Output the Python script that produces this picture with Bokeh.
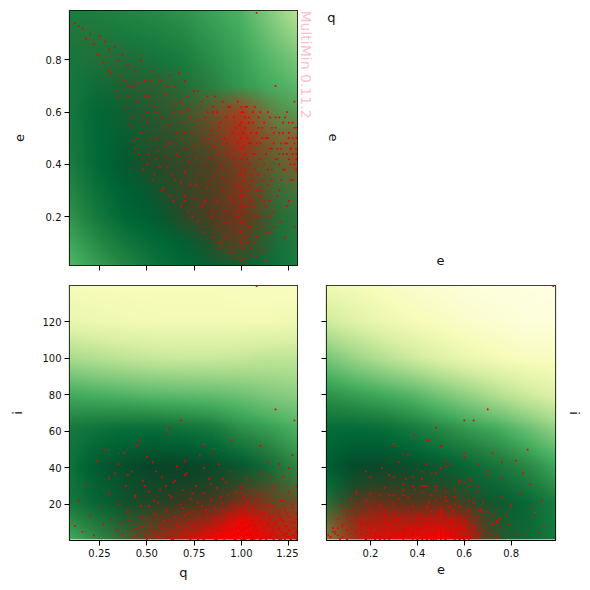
import numpy as np
from bokeh.plotting import figure
from bokeh.layouts import column, row
from bokeh.models import Range1d, LinearAxis, FixedTicker, NumeralTickFormatter
from bokeh.core.properties import value
from bokeh.embed import file_html
from bokeh.resources import INLINE

# Colour scale of the background (dark to light)
scale_colors = ["#004529", "#006837", "#238443", "#41ab5d", "#78c679", "#addd8e", "#d9f0a3", "#f7fcb9", "#ffffe5"]

# Axis extents and ticks
q_lim = (0.0915, 1.296)
e_lim = (0.0125, 0.989)
i_lim = (0.2, 139.9)
q_ticks = [0.25, 0.5, 0.75, 1.0, 1.25]
e_ticks = [0.2, 0.4, 0.6, 0.8]
i_ticks = [20, 40, 60, 80, 100, 120]

# Background levels, top row first
bg_q_cols = [0.09, 0.24, 0.39, 0.54, 0.69, 0.84, 0.99, 1.14, 1.30]
bg_e_cols = [0.01, 0.13, 0.25, 0.38, 0.50, 0.62, 0.75, 0.87, 0.99]
bg_e_rows = [0.99, 0.80, 0.60, 0.40, 0.20, 0.01]
bg_i_rows = [140, 120, 100, 80, 60, 40, 20, 0]
bg_qe = [[.22, .23, .25, .27, .30, .35, .40, .52, .66],
         [.20, .19, .18, .19, .22, .28, .34, .42, .50],
         [.20, .13, .12, .13, .16, .22, .29, .34, .38],
         [.22, .13, .08, .07, .08, .10, .16, .23, .30],
         [.30, .20, .12, .09, .07, .07, .10, .17, .23],
         [.42, .33, .25, .18, .13, .11, .12, .15, .22]]
bg_qi = [[.87, .88, .88, .88, .88, .88, .89, .89, .90],
         [.82, .84, .85, .86, .86, .86, .86, .86, .84],
         [.62, .65, .68, .70, .71, .71, .70, .68, .68],
         [.38, .40, .42, .44, .45, .46, .48, .52, .55],
         [.20, .17, .15, .15, .17, .20, .28, .33, .40],
         [.18, .08, .04, .01, .01, .03, .08, .16, .27],
         [.20, .13, .07, .04, .03, .04, .08, .15, .22],
         [.38, .28, .20, .15, .13, .13, .14, .18, .25]]
bg_ei = [[.85, .87, .90, .93, .95, .97, .98, .99, 1.0],
         [.72, .78, .83, .87, .90, .93, .95, .97, .97],
         [.50, .58, .65, .72, .78, .83, .87, .90, .90],
         [.30, .34, .38, .43, .50, .57, .65, .72, .78],
         [.14, .14, .15, .20, .26, .32, .38, .46, .55],
         [.10, .03, .03, .05, .09, .14, .20, .27, .36],
         [.20, .08, .05, .05, .05, .07, .10, .14, .22],
         [.40, .22, .15, .12, .10, .10, .12, .15, .20]]

# Share of red per region of each panel, top row first
dens_q_cols = [0.1, 0.2, 0.3, 0.4, 0.5, 0.6, 0.7, 0.8, 0.9, 1.0, 1.1, 1.2, 1.3]
dens_e_cols = [0.0, 0.1, 0.2, 0.3, 0.4, 0.5, 0.6, 0.7, 0.8, 0.9, 1.0]
dens_e_rows = [0.99, 0.9, 0.8, 0.7, 0.6, 0.5, 0.4, 0.3, 0.2, 0.1, 0.01]
dens_i_rows = [70, 60, 50, 40, 30, 20, 10, 0]
dens_qe = [[0, 0, 0, 0, 0, 0, 0, 0, 0, 0, 0, 0, 0],
           [.04, .06, .02, 0, 0, 0, 0, 0, 0, 0, 0, 0, 0],
           [.01, .06, .1, .08, .03, .01, 0, 0, 0, 0, 0, 0, 0],
           [0, .02, .06, .12, .14, .14, .08, .05, .02, .01, .01, .01, 0],
           [0, .01, .03, .08, .14, .18, .22, .28, .42, .55, .32, .15, .1],
           [0, 0, .01, .05, .13, .18, .22, .32, .46, .65, .45, .32, .42],
           [0, 0, 0, .03, .14, .18, .22, .28, .36, .45, .32, .24, .42],
           [0, 0, 0, 0, .03, .14, .22, .28, .36, .5, .32, .15, .15],
           [0, 0, 0, 0, 0, .05, .18, .28, .36, .45, .28, .1, .07],
           [0, 0, 0, 0, 0, 0, .02, .1, .26, .35, .18, .05, .03],
           [0, 0, 0, 0, 0, 0, 0, .02, .08, .07, .02, .01, 0]]
dens_qi = [[0, 0, 0, 0, 0, 0, 0, 0, 0, 0, 0, 0, 0],
           [0, 0, 0, 0, .01, .01, .01, .01, .01, .01, .01, .01, .01],
           [0, .01, .01, .02, .02, .02, .02, .02, .02, .02, .03, .02, .02],
           [0, .01, .02, .03, .03, .04, .04, .04, .04, .05, .05, .04, .03],
           [.01, .02, .03, .05, .07, .08, .1, .11, .15, .2, .24, .2, .15],
           [.02, .03, .05, .08, .13, .17, .22, .28, .33, .5, .5, .37, .37],
           [.01, .03, .07, .15, .28, .38, .47, .57, .72, .92, .78, .62, .57],
           [.01, .03, .07, .2, .42, .58, .74, .86, 1, 1, .92, .74, .62]]
dens_ei = [[0, 0, 0, 0, 0, 0, 0, 0, 0, 0, 0],
           [0, 0, 0, 0, 0, 0, .01, .01, 0, 0, 0],
           [0, 0, .01, .01, .01, .01, .01, .02, .01, 0, 0],
           [0, .02, .04, .05, .04, .04, .03, .03, .02, .01, 0],
           [.01, .07, .15, .17, .15, .13, .09, .04, .03, .01, 0],
           [.08, .24, .42, .38, .33, .38, .24, .09, .04, .02, 0],
           [.24, .47, .68, .68, .68, .74, .62, .24, .07, .03, 0],
           [.28, .52, .8, .86, .92, 1, .8, .28, .09, .02, 0]]

# Individual samples
samples_q = [.12,.14,.16,.18,.20,.22,.24,.25,.27,.28,.30,.31,.33,.34,.35,.37,.38,.39,.40,.41,.42,.43,.44,.45,.46,.47,.48,.49,.50,
             .51,.52,.53,.54,.55,.56,.57,.58,.59,.60,.61,.62,.62,.63,.64,.65,.65,.66,.67,.68,.68,.69,.70,.70,.71,.72,.72,.73,.74,.75,.75,
             .76,.77,.77,.78,.79,.79,.80,.80,.81,.82,.82,.83,.84,.84,.85,.85,.86,.86,.87,.87,.88,.88,.89,.89,.90,.90,.91,.91,.92,.92,
             .93,.93,.94,.94,.95,.95,.96,.96,.97,.97,.98,.98,.98,.99,.99,1.0,1.0,1.0,1.0,1.0,1.0,1.01,1.01,1.01,1.02,1.02,1.02,1.02,
             1.03,1.03,1.03,1.04,1.04,1.04,1.05,1.05,1.05,1.06,1.06,1.07,1.07,1.08,1.08,1.09,1.09,1.10,1.10,1.11,1.11,1.12,1.12,1.13,1.13,
             1.14,1.14,1.15,1.15,1.16,1.16,1.17,1.17,1.18,1.18,1.19,1.20,1.20,1.21,1.21,1.22,1.22,1.23,1.23,1.24,1.24,1.25,1.25,1.26,1.26,
             1.27,1.27,1.28,1.28,1.29,1.29,1.29,1.29,1.28,1.08]
samples_e = [.94,.93,.92,.88,.90,.86,.82,.89,.79,.87,.84,.75,.85,.68,.80,.82,.72,.62,.78,.55,.70,.49,.76,.64,.44,.80,.58,.72,.40,
             .66,.50,.76,.36,.60,.45,.72,.30,.54,.67,.39,.74,.28,.48,.60,.70,.34,.52,.43,.24,.64,.56,.72,.37,.46,.22,.61,.32,.52,.68,.27,
             .42,.18,.57,.36,.64,.24,.48,.14,.58,.31,.66,.42,.20,.53,.12,.62,.36,.47,.26,.60,.16,.54,.40,.08,.64,.30,.50,.22,.58,.12,
             .44,.34,.62,.18,.52,.26,.06,.58,.40,.14,.64,.32,.48,.22,.55,.10,.38,.60,.28,.46,.18,.52,.04,.34,.58,.12,.24,.44,
             .30,.50,.62,.16,.40,.56,.08,.26,.48,.34,.60,.20,.44,.52,.12,.36,.58,.28,.48,.16,.54,.40,.06,.50,.24,
             .60,.32,.46,.14,.54,.38,.22,.48,.58,.70,.42,.30,.52,.18,.46,.56,.38,.48,.12,.44,.60,.52,.26,.40,.46,
             .56,.34,.48,.16,.42,.54,.44,.50,.64,.98]
samples_i = [8,22,5,31,14,3,44,18,9,50,26,12,37,6,20,4,48,30,15,11,38,2,24,7,55,19,33,3,12,
             27,6,43,15,2,21,9,35,4,17,58,11,25,1,32,5,13,41,8,20,3,28,14,6,37,2,10,23,4,16,9,
             30,1,12,47,5,19,3,26,8,15,2,34,7,22,11,4,18,1,29,6,13,42,3,9,21,5,16,1,32,7,
             10,25,2,38,6,14,3,19,1,27,8,12,4,2,17,6,30,1,9,13,3,24,5,2,10,16,7,1,
             20,4,34,8,3,14,2,11,28,5,1,18,9,3,23,6,13,1,37,4,10,15,7,2,25,
             8,43,3,12,19,5,1,30,9,72,2,14,6,22,1,11,35,4,17,8,2,27,13,6,1,
             20,47,3,10,15,5,30,1,66,139.5]
more_samples = [(.36,.74,10),(.40,.66,17),(.42,.58,6),(.44,.46,25),(.45,.71,3),(.47,.52,13),(.48,.38,8),(.49,.66,30),(.50,.56,1),
    (.51,.44,19),(.52,.72,9),(.53,.34,4),(.54,.62,22),(.55,.50,14),(.56,.74,2),(.57,.39,28),(.58,.58,7),(.59,.31,11),(.60,.47,3),
    (.61,.70,16),(.62,.55,5),(.63,.36,24),(.64,.26,1),(.65,.63,33),(.66,.44,9),(.67,.75,12),(.68,.33,2),(.69,.50,18),(.70,.26,6),
    (.71,.66,4),(.72,.41,15),(.73,.58,1),(.74,.20,26),(.75,.47,8),(.76,.32,3),(.77,.68,21),(.78,.54,5),(.79,.16,10),(.80,.40,1),
    (.81,.26,17),(.82,.60,7),(.83,.50,2),(.84,.34,31),(.85,.22,4),(.86,.66,13),(.87,.44,1),(.88,.10,6),(.89,.56,24),(.90,.38,3),
    (.91,.18,9),(.92,.48,2),(.93,.62,15),(.94,.28,5),(.95,.08,20),(.96,.42,1),(.97,.54,11),(.98,.20,4),(.99,.36,7),(1.0,.62,2),
    (1.0,.50,16),(1.0,.56,3),(1.0,.30,10),(1.0,.24,1),(1.0,.14,5),(1.0,.42,27),(1.01,.60,6),(1.01,.47,2),(1.01,.28,13),(1.01,.18,1),
    (1.01,.08,8),(1.02,.54,4),(1.02,.38,19),(1.02,.62,1),(1.03,.22,3),(1.03,.42,7),(1.03,.10,14),(1.04,.58,2),(1.04,.32,5),(1.04,.48,22),
    (1.05,.52,1),(1.05,.16,9),(1.05,.36,3),(1.06,.44,12),(1.06,.56,6),(1.06,.24,2),(1.07,.62,17),(1.07,.38,4),(1.07,.10,1),(1.08,.48,8),
    (1.08,.30,25),(1.09,.54,3),(1.09,.20,6),(1.10,.42,1),(1.10,.60,11),(1.11,.34,2),(1.11,.50,15),(1.12,.26,4),(1.12,.56,7),(1.13,.44,1),
    (1.13,.14,20),(1.14,.50,5),(1.14,.38,9),(1.15,.58,2),(1.15,.26,13),(1.16,.46,4),(1.16,.34,28),(1.17,.52,1),(1.17,.16,6),(1.18,.42,10),
    (1.18,.54,3),(1.19,.46,16),(1.19,.28,2),(1.20,.40,7),(1.20,.58,1),(1.21,.48,5),(1.21,.34,12),(1.22,.44,3),(1.22,.52,22),(1.23,.38,1),
    (1.23,.58,8),(1.24,.48,4),(1.24,.24,15),(1.25,.42,2),(1.25,.56,6),(1.26,.46,10),(1.26,.34,1),(1.27,.50,3),(1.27,.44,18),(1.28,.40,7),
    (1.28,.54,2),(1.29,.46,12),(1.29,.38,4),(1.0,.03,2),(1.05,.05,4),(.97,.04,7),(1.1,.07,1),(.93,.06,12),(1.02,.02,3),(.9,.09,17),
    (1.08,.05,5),(1.13,.03,2),(.6,.43,30),(.7,.28,36),(.8,.25,40),(.9,.35,34),(.55,.42,38),(.5,.6,46),(.45,.5,52),(.7,.52,44),
    (.85,.6,48),(.35,.66,42),(.62,.48,62),(.68,.6,66),(1.1,.3,52),(1.2,.44,42),(1.15,.2,35),(1.25,.5,40),(.8,.5,52),(.95,.45,55),
    (.4,.7,36),(.3,.76,34)]

all_q = samples_q + [s[0] for s in more_samples]
all_e = samples_e + [s[1] for s in more_samples]
all_i = samples_i + [s[2] for s in more_samples]


def upsample(grid, cols, rows, nx, ny, x_lim, y_lim):
    """Smooth a coarse read-off grid for display (top row first in, bottom row first out)."""
    g = np.asarray(grid, float)
    xs = np.linspace(x_lim[0], x_lim[1], nx)
    ys = np.linspace(y_lim[0], y_lim[1], ny)
    r = np.asarray(rows, float)[::-1]
    by_col = np.array([np.interp(xs, cols, line) for line in g[::-1]])
    return np.array([np.interp(ys, r, by_col[:, j]) for j in range(nx)]).T


def to_rgba(rgb, alpha):
    a = (np.clip(alpha, 0, 1) * 255).astype(np.uint32)
    return (a << 24) | (rgb[..., 2].astype(np.uint32) << 16) | (rgb[..., 1].astype(np.uint32) << 8) | rgb[..., 0].astype(np.uint32)


def bg_image(t):
    stops = np.array([[int(c[k:k + 2], 16) for k in (1, 3, 5)] for c in scale_colors], float)
    pos = np.linspace(0, 1, len(stops))
    rgb = np.stack([np.interp(t, pos, stops[:, k]) for k in range(3)], axis=-1)
    return to_rgba(rgb, np.ones(t.shape))


def red_image(t):
    rgb = np.zeros(t.shape + (3,))
    rgb[..., 0] = 255
    return to_rgba(rgb, t)


FONT = "DejaVu Sans"
TICK_PX = "10px"
LABEL_PX = "13px"


def panel(x_lim, y_lim, xt, yt, bg, dens, sx, sy, xlabel, ylabel, show_x, show_y,
          width, height, left, right, top, bottom, y_standoff, img_lift):
    p = figure(width=width, height=height, x_range=Range1d(*x_lim), y_range=Range1d(*y_lim),
               output_backend="svg", toolbar_location=None, min_border_left=left, min_border_right=right,
               min_border_top=top, min_border_bottom=bottom, background_fill_color="white")
    p.grid.visible = False
    p.outline_line_color = "black"
    p.outline_line_width = 1.2
    dw, dh = x_lim[1] - x_lim[0], y_lim[1] - y_lim[0]
    p.image_rgba(image=[bg_image(bg)], x=x_lim[0], y=y_lim[0] + img_lift, dw=dw, dh=dh - img_lift)
    p.image_rgba(image=[red_image(dens)], x=x_lim[0], y=y_lim[0] + img_lift, dw=dw, dh=dh - img_lift)
    p.scatter(sx, sy, marker="square", size=1.7, fill_color="#ee0000", line_color=None)
    for ax, ticks, lab, show in ((p.xaxis[0], xt, xlabel, show_x), (p.yaxis[0], yt, ylabel, show_y)):
        ax.ticker = FixedTicker(ticks=ticks)
        ax.major_tick_in = 0
        ax.major_tick_out = 5
        ax.minor_tick_in = 0
        ax.minor_tick_out = 0
        ax.axis_line_color = None
        ax.major_tick_line_width = 1
        ax.major_label_text_font = FONT
        ax.major_label_text_font_size = TICK_PX if show else "0px"
        ax.major_label_text_color = "#111111" if show else None
        ax.major_label_standoff = 3
        if lab:
            ax.axis_label = lab
            ax.axis_label_text_font = FONT
            ax.axis_label_text_font_size = LABEL_PX
            ax.axis_label_text_font_style = "normal"
            ax.axis_label_text_color = "#111111"
    p.yaxis[0].axis_label_standoff = y_standoff
    return p


qe_bg = upsample(bg_qe, bg_q_cols, bg_e_rows, 228, 255, q_lim, e_lim)
qe_d = upsample(dens_qe, dens_q_cols, dens_e_rows, 228, 255, q_lim, e_lim)
qi_bg = upsample(bg_qi, bg_q_cols, bg_i_rows, 228, 255, q_lim, i_lim)
qi_d = upsample(dens_qi, dens_q_cols, dens_i_rows, 228, 255, q_lim, i_lim)
ei_bg = upsample(bg_ei, bg_e_cols, bg_i_rows, 229, 255, e_lim, i_lim)
ei_d = upsample(dens_ei, dens_e_cols, dens_i_rows, 229, 255, e_lim, i_lim)

p1 = panel(q_lim, e_lim, q_ticks, e_ticks, qe_bg, qe_d, all_q, all_e, None, "e", False, True,
           298, 275, 69, 1, 10, 10, 19, 0)
p2 = panel(q_lim, i_lim, q_ticks, i_ticks, qi_bg, qi_d, all_q, all_i, "q", "i", True, True,
           298, 315, 69, 1, 10, 50, 14, 0.6)
p2.xaxis[0].formatter = NumeralTickFormatter(format="0.00")
p3 = panel(e_lim, i_lim, e_ticks, i_ticks, ei_bg, ei_d, all_e, all_i, "e", None, True, False,
           292, 315, 28, 35, 10, 50, 5, 0.6)
right_axis = LinearAxis(axis_label="i", ticker=FixedTicker(ticks=[]), axis_line_color=None, axis_label_standoff=11,
                        axis_label_text_font=FONT, axis_label_text_font_size=LABEL_PX,
                        axis_label_text_font_style="normal", axis_label_text_color="#111111",
                        major_label_text_font_size="0px", major_tick_line_color=None, minor_tick_line_color=None)
p3.add_layout(right_axis, "right")

# Empty upper-right area; its frame lines up with the first panel, so its ranges are page pixels of the reference
blank = figure(width=292, height=275, x_range=Range1d(298, 590), y_range=Range1d(265, 10),
               output_backend="svg", toolbar_location=None, min_border_left=0, min_border_right=0,
               min_border_top=10, min_border_bottom=10, outline_line_color=None)
blank.axis.visible = False
blank.grid.visible = False
blank.text([331], [17], text=["q"], text_font=value(FONT), text_font_size="13px", text_color="#111111",
           text_align="center", text_baseline="middle")
blank.text([333], [137], text=["e"], angle=-np.pi / 2, text_font=value(FONT), text_font_size="13px", text_color="#111111",
           text_align="center", text_baseline="middle")
blank.text([440], [260], text=["e"], text_font=value(FONT), text_font_size="13px", text_color="#111111",
           text_align="center", text_baseline="middle")
blank.text([305], [10], text=["MultiMin 0.11.2"], angle=-np.pi / 2, text_font=value(FONT), text_font_size="14px",
           text_color="pink", text_align="left", text_baseline="middle")

layout = column(row(p1, blank, spacing=0), row(p2, p3, spacing=0), spacing=0)
open("out.html", "w").write(file_html(layout, INLINE))
